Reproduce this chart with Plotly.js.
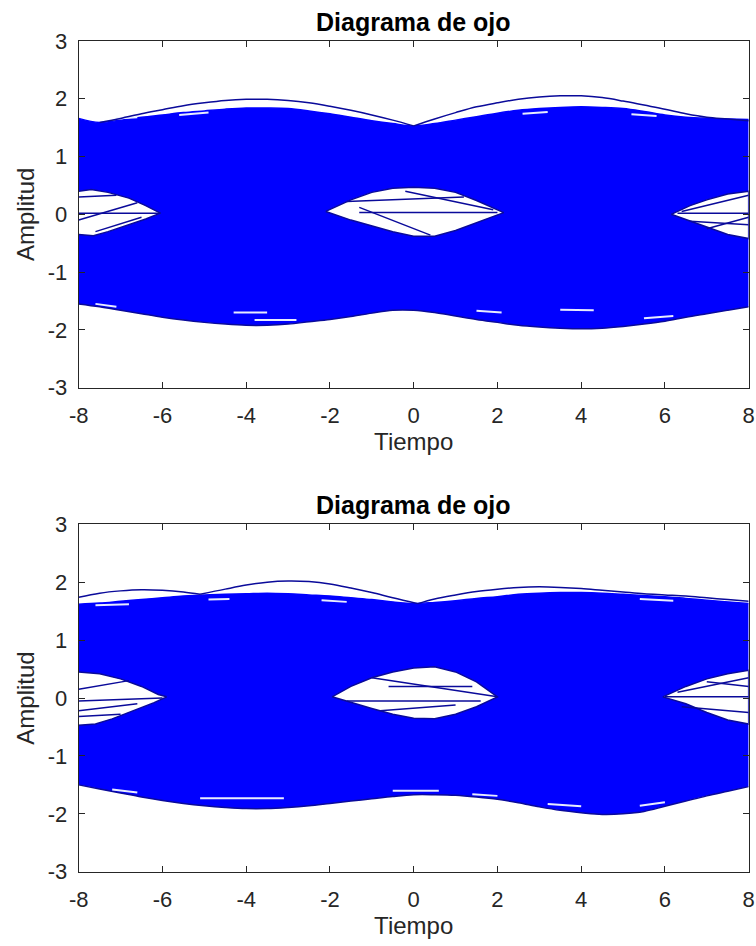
<!DOCTYPE html>
<html>
<head>
<meta charset="utf-8">
<script src="https://cdn.plot.ly/plotly-3.0.1.min.js"></script>
<style>
  html, body { margin: 0; padding: 0; background: #ffffff; }
  #grafico { width: 756px; height: 946px; }
</style>
</head>
<body>
<div id="grafico"></div>
<script>
// Instantes de muestreo comunes a las envolventes
const tiempo = [-8,-7.5,-7,-6.5,-6,-5.5,-5,-4.5,-4,-3.5,-3,-2.5,-2,-1.5,-1,-0.5,0,0.5,1,1.5,2,2.5,3,3.5,4,4.5,5,5.5,6,6.5,7,7.5,8];

// ---- Diagrama 1 ----
const superior1 = [1.66,1.59,1.63,1.68,1.72,1.76,1.79,1.82,1.84,1.84,1.83,1.79,1.74,1.68,1.62,1.57,1.53,1.57,1.63,1.69,1.75,1.80,1.83,1.85,1.86,1.85,1.83,1.78,1.72,1.68,1.66,1.65,1.64];
const inferior1 = [-1.55,-1.60,-1.66,-1.72,-1.78,-1.83,-1.87,-1.90,-1.92,-1.92,-1.90,-1.86,-1.82,-1.77,-1.71,-1.66,-1.66,-1.70,-1.76,-1.82,-1.87,-1.92,-1.95,-1.97,-1.98,-1.97,-1.94,-1.90,-1.85,-1.78,-1.72,-1.66,-1.60];

const arcoA1x = [-7.5,-7,-6.5,-6,-5.5,-5,-4.5,-4,-3.5,-3,-2.5,-2,-1.5,-1,-0.5,0];
const arcoA1y = [1.59,1.66,1.74,1.81,1.88,1.93,1.97,1.99,1.99,1.97,1.93,1.87,1.80,1.72,1.63,1.53];
const arcoB1x = [0,0.5,1,1.5,2,2.5,3,3.5,4,4.5,5,5.5,6,6.5,7,7.5,8];
const arcoB1y = [1.53,1.65,1.76,1.86,1.93,1.99,2.03,2.05,2.05,2.02,1.96,1.89,1.82,1.74,1.68,1.65,1.62];

const ojoIzq1x = [-8,-7.7,-7.3,-6.8,-6.4,-6.05,-6.4,-6.8,-7.3,-7.65,-8];
const ojoIzq1y = [0.40,0.43,0.38,0.28,0.15,0.02,-0.08,-0.18,-0.30,-0.37,-0.35];
const ojoCen1x = [-2.1,-1.5,-1,-0.5,0,0.5,1,1.5,2.15,1.5,1,0.5,0,-0.5,-1,-1.5,-2.1];
const ojoCen1y = [0.05,0.25,0.38,0.45,0.47,0.45,0.38,0.24,0.03,-0.15,-0.28,-0.38,-0.38,-0.30,-0.20,-0.10,0.05];
const ojoDer1x = [6.15,6.6,7,7.5,8,8,7.5,7,6.5,6.15];
const ojoDer1y = [0.0,0.15,0.25,0.35,0.40,-0.42,-0.35,-0.22,-0.08,0.0];

// trazas que cruzan los ojos: [x0, y0, x1, y1]
const cruces1 = [
  [-8,0.02,-6.05,0.02], [-8,-0.10,-6.6,0.20], [-8,0.30,-7.1,0.33], [-7.6,-0.30,-6.5,-0.05],
  [-1.3,0.03,2.0,0.03], [-1.6,0.22,1.2,0.30], [-1.3,0.12,0.4,-0.36], [-0.2,0.40,1.9,0.08],
  [6.3,0.02,8,0.02], [6.4,0.05,8,0.33], [6.6,-0.12,8,-0.18], [7.0,-0.25,8,-0.05]
];
// huecos claros entre haces de trayectorias: [x0, y0, x1, y1]
const huecos1 = [
  [-7.1,1.66,-6.6,1.68], [-5.6,1.72,-4.9,1.76], [2.6,1.74,3.2,1.77], [5.2,1.73,5.8,1.70],
  [-7.6,-1.55,-7.1,-1.60], [-4.3,-1.70,-3.5,-1.70], [1.5,-1.67,2.1,-1.70], [3.5,-1.65,4.3,-1.66],
  [-3.8,-1.83,-2.8,-1.83], [5.5,-1.80,6.2,-1.76]
];

// ---- Diagrama 2 ----
const superior2 = [1.62,1.64,1.67,1.70,1.73,1.76,1.78,1.79,1.80,1.81,1.80,1.78,1.76,1.73,1.70,1.66,1.63,1.65,1.68,1.72,1.75,1.79,1.81,1.82,1.82,1.81,1.79,1.77,1.75,1.72,1.69,1.66,1.63];
const inferior2 = [-1.50,-1.57,-1.64,-1.71,-1.77,-1.82,-1.86,-1.89,-1.91,-1.91,-1.89,-1.86,-1.82,-1.78,-1.74,-1.70,-1.67,-1.67,-1.68,-1.71,-1.75,-1.81,-1.88,-1.94,-1.98,-2.01,-2.00,-1.96,-1.87,-1.78,-1.69,-1.61,-1.53];

const arcoC2x = [-8,-7.5,-7,-6.5,-6,-5.5,-5.1];
const arcoC2y = [1.74,1.81,1.85,1.87,1.86,1.83,1.79];
const arcoD2x = [-5.1,-4.5,-4,-3.5,-3,-2.5,-2,-1.5,-1,-0.5,0.1];
const arcoD2y = [1.79,1.88,1.95,2.00,2.02,2.01,1.97,1.90,1.82,1.73,1.63];
const arcoE2x = [0.1,0.5,1,1.5,2,2.5,3,3.5,4,4.5,5,5.5,6,6.5,7,7.5,8];
const arcoE2y = [1.63,1.71,1.78,1.84,1.88,1.91,1.92,1.91,1.89,1.86,1.83,1.80,1.78,1.76,1.73,1.70,1.67];

const ojoIzq2x = [-8,-7.5,-7,-6.5,-6.1,-5.9,-6.2,-6.7,-7.2,-7.6,-8];
const ojoIzq2y = [0.45,0.42,0.33,0.20,0.06,0.02,-0.08,-0.22,-0.36,-0.45,-0.47];
const ojoCen2x = [-1.95,-1.5,-1,-0.5,0,0.5,1,1.5,2.0,1.5,1,0.5,0,-0.5,-1,-1.5,-1.95];
const ojoCen2y = [0.02,0.20,0.35,0.45,0.52,0.54,0.45,0.28,0.02,-0.15,-0.28,-0.36,-0.35,-0.28,-0.18,-0.08,0.02];
const ojoDer2x = [5.95,6.5,7,7.5,8,8,7.5,7,6.5,5.95];
const ojoDer2y = [0.02,0.20,0.33,0.42,0.48,-0.45,-0.38,-0.25,-0.10,0.02];

const cruces2 = [
  [-8,-0.05,-6.0,0.0], [-8,-0.22,-6.6,-0.10], [-8,0.15,-6.8,0.30], [-8,-0.32,-7.0,-0.28],
  [-1.0,0.35,2.0,0.02], [-1.6,-0.05,1.6,-0.05], [-0.6,0.20,1.4,0.20], [-0.8,-0.22,1.0,-0.12],
  [6.0,0.02,8,0.02], [6.3,0.10,8,0.35], [6.4,-0.15,8,-0.25], [7.0,0.28,8,0.20]
];
const huecos2 = [
  [-7.6,1.60,-6.8,1.62], [-4.9,1.70,-4.4,1.71], [-2.2,1.69,-1.6,1.66], [5.4,1.71,6.2,1.68],
  [-5.1,-1.73,-3.1,-1.73], [-0.5,-1.60,0.6,-1.60], [-7.2,-1.58,-6.6,-1.63], [3.2,-1.83,4.0,-1.87],
  [5.4,-1.86,6.0,-1.80], [1.4,-1.66,2.0,-1.69]
];

// Rótulos de las marcas
const marcasX = [-8,-6,-4,-2,0,2,4,6,8];
const textoX = ['-8','-6','-4','-2','0','2','4','6','8'];
const marcasY = [-3,-2,-1,0,1,2,3];
const textoY = ['-3','-2','-1','0','1','2','3'];

const AZUL = '#0000ff';
const BORDE = '#0a0a9a';

function trazasDiagrama(ejeX, ejeY, sup, inf, arcos, ojos, cruces, huecos) {
  const t = [];
  // banda densa de trayectorias
  t.push({x: tiempo, y: inf, xaxis: ejeX, yaxis: ejeY, mode: 'lines',
          line: {color: BORDE, width: 1.5, shape: 'spline'}, hoverinfo: 'skip'});
  t.push({x: tiempo, y: sup, xaxis: ejeX, yaxis: ejeY, mode: 'lines', fill: 'tonexty',
          fillcolor: AZUL, line: {color: AZUL, width: 1.5, shape: 'spline'}, hoverinfo: 'skip'});
  // huecos claros dentro de la banda
  huecos.forEach(h => t.push({x: [h[0], h[2]], y: [h[1], h[3]], xaxis: ejeX, yaxis: ejeY,
          mode: 'lines', line: {color: '#e8ecff', width: 2}, hoverinfo: 'skip'}));
  // aberturas del ojo
  ojos.forEach(o => t.push({x: o[0], y: o[1], xaxis: ejeX, yaxis: ejeY, mode: 'lines',
          fill: 'toself', fillcolor: '#ffffff', line: {color: BORDE, width: 1.5}, hoverinfo: 'skip'}));
  // trayectorias que atraviesan los ojos
  cruces.forEach(c => t.push({x: [c[0], c[2]], y: [c[1], c[3]], xaxis: ejeX, yaxis: ejeY,
          mode: 'lines', line: {color: BORDE, width: 1.5}, hoverinfo: 'skip'}));
  // trayectorias extremas
  arcos.forEach(a => t.push({x: a[0], y: a[1], xaxis: ejeX, yaxis: ejeY, mode: 'lines',
          line: {color: BORDE, width: 1.5, shape: 'spline'}, hoverinfo: 'skip'}));
  return t;
}

const datos = [].concat(
  trazasDiagrama('x', 'y', superior1, inferior1,
    [[arcoA1x, arcoA1y], [arcoB1x, arcoB1y]],
    [[ojoIzq1x, ojoIzq1y], [ojoCen1x, ojoCen1y], [ojoDer1x, ojoDer1y]], cruces1, huecos1),
  trazasDiagrama('x2', 'y2', superior2, inferior2,
    [[arcoC2x, arcoC2y], [arcoD2x, arcoD2y], [arcoE2x, arcoE2y]],
    [[ojoIzq2x, ojoIzq2y], [ojoCen2x, ojoCen2y], [ojoDer2x, ojoDer2y]], cruces2, huecos2)
);

const fuente = 'Liberation Sans, Arial, Helvetica, sans-serif';
const GRIS = '#262626';

function ejeX(dominio, ancla) {
  return {
    domain: dominio, anchor: ancla, range: [-8, 8],
    tickvals: marcasX, ticktext: textoX,
    ticks: 'inside', ticklen: 6, tickcolor: GRIS, tickwidth: 1,
    showline: true, linecolor: GRIS, linewidth: 1, mirror: 'allticks',
    showgrid: false, zeroline: false,
    tickfont: {family: fuente, size: 22, color: GRIS},
    ticklabelstandoff: 8,
    title: {text: 'Tiempo', font: {family: fuente, size: 24, color: GRIS}, standoff: 4}
  };
}
function ejeY(dominio, ancla) {
  return {
    domain: dominio, anchor: ancla, range: [-3, 3],
    tickvals: marcasY, ticktext: textoY,
    ticks: 'inside', ticklen: 6, tickcolor: GRIS, tickwidth: 1,
    showline: true, linecolor: GRIS, linewidth: 1, mirror: 'allticks',
    showgrid: false, zeroline: false,
    tickfont: {family: fuente, size: 22, color: GRIS},
    ticklabelstandoff: 6,
    title: {text: 'Amplitud', font: {family: fuente, size: 24, color: GRIS}, standoff: 6}
  };
}

const layout = {
  width: 756, height: 946,
  margin: {l: 0, r: 0, t: 0, b: 0},
  paper_bgcolor: '#ffffff', plot_bgcolor: '#ffffff',
  showlegend: false,
  xaxis: ejeX([0.1041, 0.9903], 'y'),
  yaxis: ejeY([0.5902, 0.9567], 'x'),
  xaxis2: ejeX([0.1041, 0.9903], 'y2'),
  yaxis2: ejeY([0.0785, 0.4458], 'x2'),
  annotations: [
    {text: '<b>Diagrama de ojo</b>', xref: 'paper', yref: 'paper', x: 0.5473, y: 0.9567,
     xanchor: 'center', yanchor: 'bottom', yshift: 3, showarrow: false,
     font: {family: fuente, size: 25, color: '#000000'}},
    {text: '<b>Diagrama de ojo</b>', xref: 'paper', yref: 'paper', x: 0.5473, y: 0.4458,
     xanchor: 'center', yanchor: 'bottom', yshift: 3, showarrow: false,
     font: {family: fuente, size: 25, color: '#000000'}}
  ]
};

Plotly.newPlot('grafico', datos, layout, {staticPlot: true, displayModeBar: false});
</script>
</body>
</html>
